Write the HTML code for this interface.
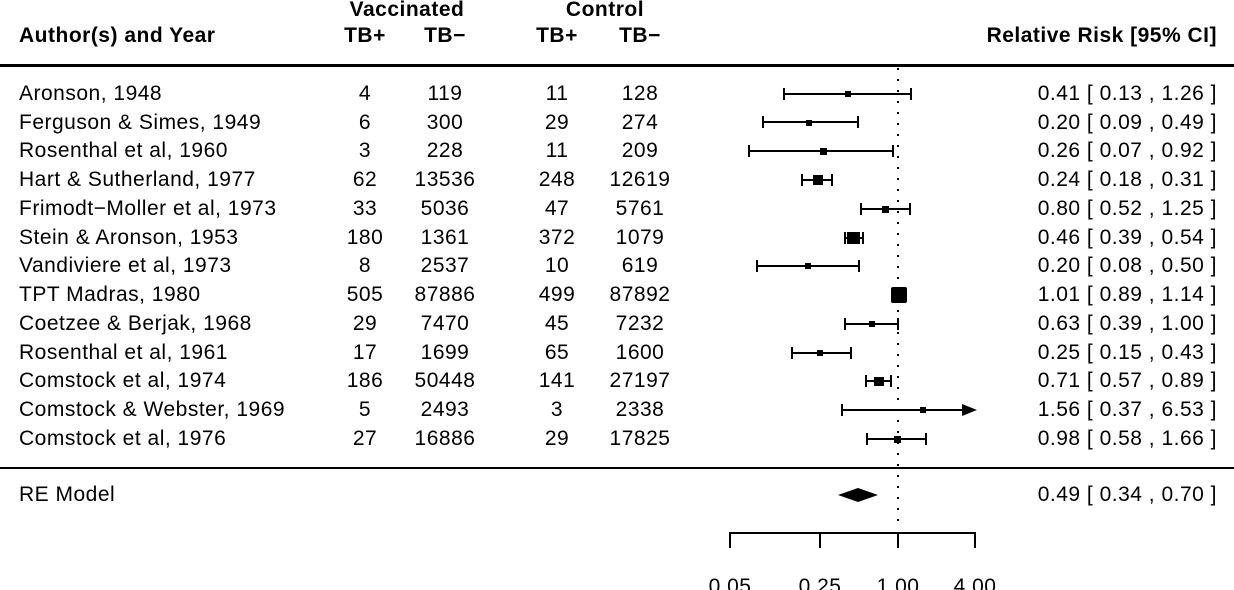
<!DOCTYPE html>
<html><head><meta charset="utf-8"><style>
html,body{margin:0;padding:0;background:#fff;}
svg{display:block;}
text{font-family:"Liberation Sans",Arial,sans-serif;font-size:21px;letter-spacing:0.5px;fill:#000;}
.b{font-weight:bold;}
.m{text-anchor:middle;}
.r{text-anchor:end;}
</style></head><body>
<svg width="1234" height="590" viewBox="0 0 1234 590" xmlns="http://www.w3.org/2000/svg">
<text class="b m" x="407" y="16">Vaccinated</text>
<text class="b m" x="605" y="16">Control</text>
<text class="b" x="19" y="42">Author(s) and Year</text>
<text class="b m" x="365" y="42">TB+</text>
<text class="b m" x="445" y="42">TB−</text>
<text class="b m" x="557" y="42">TB+</text>
<text class="b m" x="640" y="42">TB−</text>
<text class="b r" x="1217" y="42">Relative Risk [95% CI]</text>
<rect x="0" y="64" width="1234" height="3"/>
<rect x="0" y="467" width="1234" height="2"/>
<line x1="898" y1="68" x2="898" y2="522" stroke="#000" stroke-width="2" stroke-dasharray="2,9"/>
<g stroke="#000" stroke-width="2" fill="none">
<path d="M784 94H911M784 88V100M911 88V100"/>
<path d="M763 122H858M763 116V128M858 116V128"/>
<path d="M749 151H893M749 145V157M893 145V157"/>
<path d="M802 180H832M802 174V186M832 174V186"/>
<path d="M861 209H910M861 203V215M910 203V215"/>
<path d="M845 238H863M845 232V244M863 232V244"/>
<path d="M757 266H859M757 260V272M859 260V272"/>
<path d="M845 324H898M845 318V330M898 318V330"/>
<path d="M792 353H851M792 347V359M851 347V359"/>
<path d="M866 381H891M866 375V387M891 375V387"/>
<path d="M842 410H962M842 404V416"/>
<path d="M867 439H926M867 433V445M926 433V445"/>
<path d="M730 548V533H975V548M820 533V548M898 533V548"/>
</g>
<g>
<rect x="845" y="91" width="6" height="6"/>
<rect x="806" y="120" width="6" height="6"/>
<rect x="820" y="148" width="7" height="7"/>
<rect x="813" y="175" width="10" height="10"/>
<rect x="882" y="206" width="7" height="7"/>
<rect x="847" y="232" width="13" height="12"/>
<rect x="805" y="263" width="6" height="6"/>
<rect x="891" y="287" width="16" height="16" rx="2"/>
<rect x="869" y="321" width="6" height="6"/>
<rect x="817" y="350" width="6" height="6"/>
<rect x="874" y="377" width="10" height="9"/>
<rect x="920" y="407" width="6" height="6"/>
<rect x="894" y="436" width="7" height="7"/>
<polygon points="962,404 977,410 962,416"/>
<polygon points="838,495 858,488 878,495 858,502"/>
</g>
<g>
<text x="19" y="100">Aronson, 1948</text>
<text x="19" y="129">Ferguson &amp; Simes, 1949</text>
<text x="19" y="157">Rosenthal et al, 1960</text>
<text x="19" y="186">Hart &amp; Sutherland, 1977</text>
<text x="19" y="215">Frimodt−Moller et al, 1973</text>
<text x="19" y="244">Stein &amp; Aronson, 1953</text>
<text x="19" y="272">Vandiviere et al, 1973</text>
<text x="19" y="301">TPT Madras, 1980</text>
<text x="19" y="330">Coetzee &amp; Berjak, 1968</text>
<text x="19" y="359">Rosenthal et al, 1961</text>
<text x="19" y="387">Comstock et al, 1974</text>
<text x="19" y="416">Comstock &amp; Webster, 1969</text>
<text x="19" y="445">Comstock et al, 1976</text>
<text x="19" y="501">RE Model</text>
</g>
<g>
<text class="m" x="365" y="100">4</text><text class="m" x="445" y="100">119</text><text class="m" x="557" y="100">11</text><text class="m" x="640" y="100">128</text>
<text class="m" x="365" y="129">6</text><text class="m" x="445" y="129">300</text><text class="m" x="557" y="129">29</text><text class="m" x="640" y="129">274</text>
<text class="m" x="365" y="157">3</text><text class="m" x="445" y="157">228</text><text class="m" x="557" y="157">11</text><text class="m" x="640" y="157">209</text>
<text class="m" x="365" y="186">62</text><text class="m" x="445" y="186">13536</text><text class="m" x="557" y="186">248</text><text class="m" x="640" y="186">12619</text>
<text class="m" x="365" y="215">33</text><text class="m" x="445" y="215">5036</text><text class="m" x="557" y="215">47</text><text class="m" x="640" y="215">5761</text>
<text class="m" x="365" y="244">180</text><text class="m" x="445" y="244">1361</text><text class="m" x="557" y="244">372</text><text class="m" x="640" y="244">1079</text>
<text class="m" x="365" y="272">8</text><text class="m" x="445" y="272">2537</text><text class="m" x="557" y="272">10</text><text class="m" x="640" y="272">619</text>
<text class="m" x="365" y="301">505</text><text class="m" x="445" y="301">87886</text><text class="m" x="557" y="301">499</text><text class="m" x="640" y="301">87892</text>
<text class="m" x="365" y="330">29</text><text class="m" x="445" y="330">7470</text><text class="m" x="557" y="330">45</text><text class="m" x="640" y="330">7232</text>
<text class="m" x="365" y="359">17</text><text class="m" x="445" y="359">1699</text><text class="m" x="557" y="359">65</text><text class="m" x="640" y="359">1600</text>
<text class="m" x="365" y="387">186</text><text class="m" x="445" y="387">50448</text><text class="m" x="557" y="387">141</text><text class="m" x="640" y="387">27197</text>
<text class="m" x="365" y="416">5</text><text class="m" x="445" y="416">2493</text><text class="m" x="557" y="416">3</text><text class="m" x="640" y="416">2338</text>
<text class="m" x="365" y="445">27</text><text class="m" x="445" y="445">16886</text><text class="m" x="557" y="445">29</text><text class="m" x="640" y="445">17825</text>
</g>
<g>
<text class="r" x="1217" y="100">0.41 [ 0.13 , 1.26 ]</text>
<text class="r" x="1217" y="129">0.20 [ 0.09 , 0.49 ]</text>
<text class="r" x="1217" y="157">0.26 [ 0.07 , 0.92 ]</text>
<text class="r" x="1217" y="186">0.24 [ 0.18 , 0.31 ]</text>
<text class="r" x="1217" y="215">0.80 [ 0.52 , 1.25 ]</text>
<text class="r" x="1217" y="244">0.46 [ 0.39 , 0.54 ]</text>
<text class="r" x="1217" y="272">0.20 [ 0.08 , 0.50 ]</text>
<text class="r" x="1217" y="301">1.01 [ 0.89 , 1.14 ]</text>
<text class="r" x="1217" y="330">0.63 [ 0.39 , 1.00 ]</text>
<text class="r" x="1217" y="359">0.25 [ 0.15 , 0.43 ]</text>
<text class="r" x="1217" y="387">0.71 [ 0.57 , 0.89 ]</text>
<text class="r" x="1217" y="416">1.56 [ 0.37 , 6.53 ]</text>
<text class="r" x="1217" y="445">0.98 [ 0.58 , 1.66 ]</text>
<text class="r" x="1217" y="501">0.49 [ 0.34 , 0.70 ]</text>
</g>
<text class="m" x="730" y="593">0.05</text>
<text class="m" x="820" y="593">0.25</text>
<text class="m" x="898" y="593">1.00</text>
<text class="m" x="975" y="593">4.00</text>
</svg>
</body></html>
